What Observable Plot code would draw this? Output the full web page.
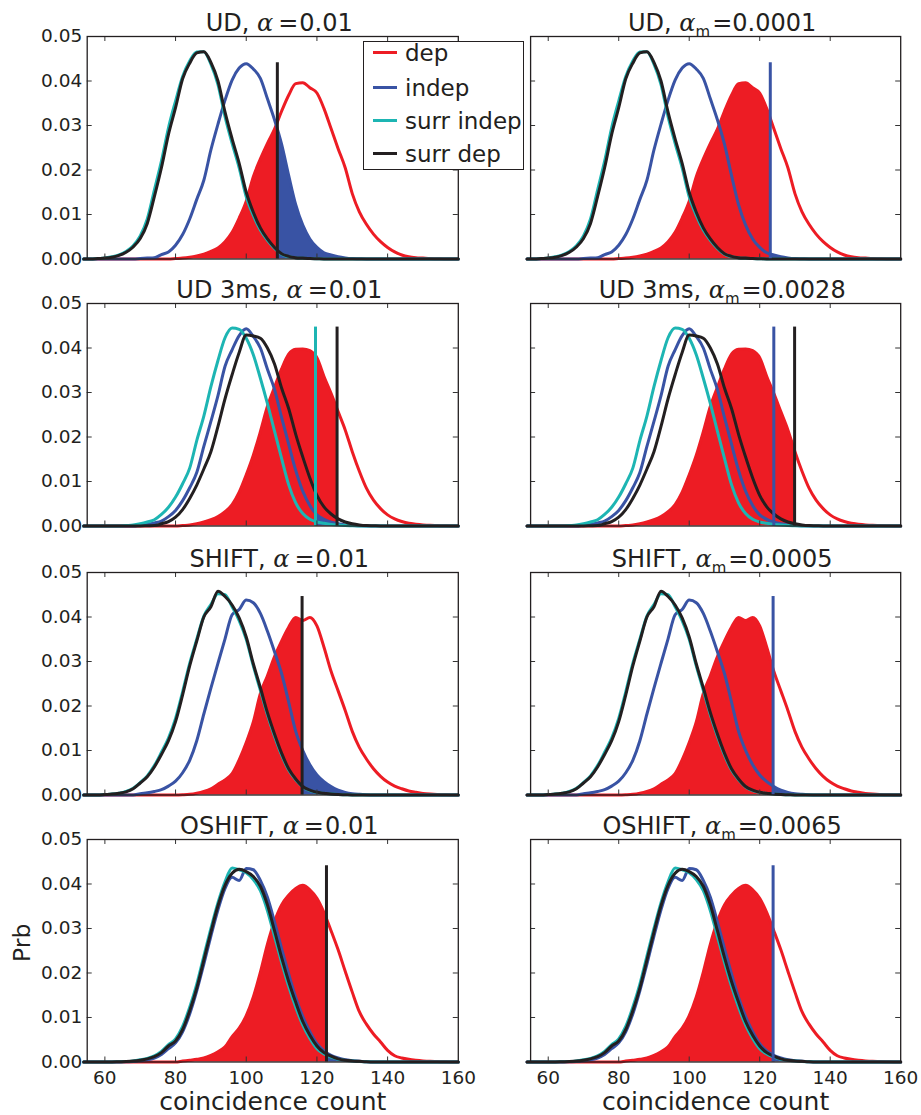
<!DOCTYPE html>
<html>
<head>
<meta charset="utf-8">
<script src="https://cdn.jsdelivr.net/npm/d3@7"></script>
<script src="https://cdn.jsdelivr.net/npm/@observablehq/plot@0.6"></script>
<style>
  html, body { margin: 0; padding: 0; background: #fff; }
  #fig { position: relative; width: 921px; height: 1115px; overflow: hidden;
         font-family: "DejaVu Sans", sans-serif; color: #231f20; background: #fff; }
  .panel { position: absolute; }
  .title { position: absolute; font-size: 24px; line-height: 24px; white-space: nowrap;
           transform: translateX(-50%); z-index: 3; }
  .al { font-family: "DejaVu Serif", serif; font-style: italic; }
  .eq { margin-left: 5px; margin-right: 1px; }
  .sub { font-size: 15px; position: relative; top: 6px; margin-right: 2px; }
  #legend { position: absolute; left: 363px; top: 41px; width: 159px; height: 127px;
            border: 1.2px solid #231f20; background: #fff; z-index: 5; }
  .sw { position: absolute; left: 9px; width: 24px; height: 3px; }
  .lt { position: absolute; left: 41px; font-size: 23px; line-height: 23px; white-space: nowrap; }
</style>
</head>
<body>
<div id="fig"></div>
<script>
// ---------- data (probabilities) ----------
const counts = [54,56,58,60,62,64,66,68,70,72,74,76,78,80,82,84,86,88,90,92,94,96,98,100,102,104,106,108,110,112,114,116,118,120,122,124,126,128,130,132,134,136,138,140,142,144,146,148,150,152,154,156,158,160];

const methods = ["UD", "UD 3ms", "SHIFT", "OSHIFT"];
const alphaLeft = "0.01";
const alphaMulti = ["0.0001", "0.0028", "0.0005", "0.0065"];
const legendLabels = ["dep", "indep", "surr indep", "surr dep"];
const xTickLabels = [60, 80, 100, 120, 140, 160];
const yTickLabels = [0, 0.01, 0.02, 0.03, 0.04, 0.05];
const xLabel = "coincidence count";
const yLabel = "Prb";

// UD
const udDep = [0,0,0,0,0,0,0,0,0,0,0,0,0,.0001,.0002,.0004,.0007,.0011,.0017,.0025,.0039,.006,.0092,.013,.0185,.0225,.026,.0292,.0332,.0368,.0394,.0396,.0385,.0373,.0338,.0293,.0248,.0205,.0147,.0106,.0078,.0056,.0039,.0026,.0016,.0009,.0005,.0003,.0002,.0001,.00005,0,0,0];
const udIndep = [0,0,0,0,0,0,0,0,.0001,.0002,.0003,.001,.0016,.0031,.0055,.009,.0134,.0177,.0245,.0303,.0357,.0402,.0429,.0439,.0427,.0406,.036,.0313,.0258,.0188,.0122,.0076,.0045,.0026,.0014,.0009,.0005,.00025,.0001,.00005,0,0,0,0,0,0,0,0,0,0,0,0,0,0];
const udSurrIndep = [0,0,.0001,.0002,.0005,.0009,.0017,.003,.0052,.009,.0155,.022,.0295,.0355,.041,.0445,.0465,.0466,.0438,.0392,.032,.026,.0205,.014,.0098,.0065,.0042,.0024,.0011,.0005,.00025,.00015,.0001,.00005,0,0,0,0,0,0,0,0,0,0,0,0,0,0,0,0,0,0,0,0];
const udSurrDep = [0,0,.0001,.0002,.0004,.0008,.0015,.0027,.0046,.008,.014,.0205,.028,.034,.0405,.044,.0463,.0466,.0442,.04,.033,.027,.0215,.015,.0105,.007,.0045,.0026,.0012,.0006,.0003,.0002,.0001,.00005,0,0,0,0,0,0,0,0,0,0,0,0,0,0,0,0,0,0,0,0];

// UD 3ms
const ud3Dep = [0,0,0,0,0,0,0,0,0,0,0,0,0,0,.0001,.0002,.0005,.0009,.0014,.0021,.0032,.0048,.0076,.0115,.0159,.0212,.0269,.0312,.0353,.0386,.0397,.0398,.0394,.0378,.0336,.0298,.0257,.0216,.0167,.0123,.0085,.0058,.0039,.0025,.0016,.001,.0006,.0004,.00025,.00015,.0001,.00005,0,0];
const ud3Indep = [0,0,0,0,0,0,0,0,.0002,.0004,.0007,.0011,.0021,.0035,.0057,.0086,.012,.0179,.0235,.0293,.0359,.0396,.0428,.0443,.0426,.04,.0352,.0307,.0244,.0184,.0125,.0078,.0046,.0025,.0015,.00085,.0005,.00025,.0001,.00005,0,0,0,0,0,0,0,0,0,0,0,0,0,0];
const ud3SurrIndep = [0,0,0,0,0,0,.0001,.0002,.0005,.0009,.0014,.0026,.0042,.0065,.0095,.013,.0192,.0247,.0313,.0372,.0423,.0445,.0442,.0422,.0385,.0332,.0275,.0213,.0152,.0093,.0052,.0028,.0015,.0009,.0006,.00035,.0002,.0001,.00005,0,0,0,0,0,0,0,0,0,0,0,0,0,0,0];
const ud3SurrDep = [0,0,0,0,0,0,0,0,0,.00005,.0001,.0005,.001,.002,.0037,.0062,.0092,.0128,.0167,.0224,.0286,.034,.039,.0429,.0427,.0422,.04,.0364,.031,.0264,.0206,.0155,.0108,.0069,.0043,.0027,.0016,.0009,.0005,.00025,.0001,.00005,0,0,0,0,0,0,0,0,0,0,0,0];

// SHIFT
const shiftDep = [0,0,0,0,0,0,0,0,0,0,0,0,0,0,.00005,.00015,.0004,.0008,.0014,.0024,.0034,.0048,.0079,.0118,.0164,.0228,.0268,.0311,.0346,.0377,.0399,.0392,.0399,.038,.0332,.0278,.0234,.019,.0143,.0107,.0081,.0059,.0042,.0029,.002,.0014,.0009,.0006,.00035,.0002,.0001,.00005,0,0];
const shiftIndep = [0,0,0,0,0,0,0,0,.0003,.0005,.0008,.0012,.002,.0031,.005,.0078,.0122,.0182,.024,.0296,.0351,.0405,.0417,.0438,.0432,.0408,.0368,.0322,.0273,.0209,.0143,.01,.0068,.0045,.003,.0019,.0011,.0006,.0003,.00015,.00005,0,0,0,0,0,0,0,0,0,0,0,0,0];
const shiftSurrIndep = [0,0,0,.0001,.0002,.0004,.0008,.0015,.0028,.0043,.0066,.0096,.0128,.0172,.0232,.0296,.035,.0402,.0428,.0452,.045,.0423,.0392,.035,.029,.0235,.018,.0132,.009,.0056,.0034,.0018,.001,.00055,.00035,.0002,.0001,.00005,0,0,0,0,0,0,0,0,0,0,0,0,0,0,0,0];
const shiftSurrDep = [0,0,0,.0001,.0002,.0004,.0007,.0014,.0027,.0041,.0063,.0091,.0122,.0165,.0225,.029,.0346,.04,.0423,.0458,.0446,.0427,.0398,.0355,.0295,.0241,.0185,.0137,.0094,.0059,.0036,.0019,.0011,.0006,.0004,.0002,.0001,.00005,0,0,0,0,0,0,0,0,0,0,0,0,0,0,0,0];

// OSHIFT
const oshiftDep = [0,0,0,0,0,0,0,0,0,0,0,0,0,0,.0002,.0004,.0006,.0009,.0015,.0023,.0034,.0057,.0076,.0104,.0146,.0202,.0265,.0316,.0353,.0375,.039,.0397,.0387,.0368,.0336,.0295,.0252,.0204,.0157,.0113,.0085,.0063,.0045,.0026,.0014,.0009,.0006,.0004,.00025,.00015,.0001,.00005,0,0];
const oshiftIndep = [0,0,0,0,0,0,.00005,.0001,.0003,.0005,.0009,.0017,.003,.0043,.0068,.0108,.016,.022,.0283,.0342,.039,.0415,.0408,.0435,.0432,.0408,.037,.0315,.0255,.0198,.0145,.0102,.0068,.0041,.0025,.0015,.0009,.0005,.0003,.00015,.00005,0,0,0,0,0,0,0,0,0,0,0,0,0];
const oshiftSurrIndep = [0,0,0,0,0,.00005,.0001,.00025,.0005,.0008,.0014,.0024,.0039,.0052,.008,.0123,.0175,.0238,.03,.0358,.0405,.0436,.0432,.0425,.041,.0385,.034,.0282,.0224,.017,.0123,.0083,.0053,.003,.0018,.0011,.0006,.00035,.0002,.0001,.00005,0,0,0,0,0,0,0,0,0,0,0,0,0];
const oshiftSurrDep = [0,0,0,0,0,.00005,.0001,.0002,.0004,.0007,.0012,.0021,.0036,.0047,.0073,.0115,.0166,.0229,.0292,.0351,.0397,.0424,.0433,.0428,.0417,.0395,.0353,.0295,.0235,.0181,.0134,.0091,.006,.0036,.0021,.0013,.0007,.0004,.00025,.00015,.00005,0,0,0,0,0,0,0,0,0,0,0,0,0];

// thresholds (coincidence count) and line heights
const redEndLeft = [108.8, 125.7, 115.8, 122.7];
const blueStartLeft = [108.8, 119.6, 115.8, 122.7];
const redEndRight = [123.0, 129.9, 123.8, 123.8];
const blueStartRight = [123.0, 124.0, 123.8, 123.8];
const lineTops = [0.0441, 0.0447, 0.0446, 0.0441];
const leftLineX = [[108.8], [119.6, 125.7], [115.8], [122.7]];
const leftLineKind = [["surrDep"], ["surrIndep", "surrDep"], ["surrDep"], ["surrDep"]];
const rightLineX = [[123.0], [124.0, 129.9], [123.8], [123.8]];
const rightLineKind = [["indep"], ["indep", "surrDep"], ["indep"], ["indep"]];

// ---------- styling ----------
const colors = {dep: "#ed1c24", indep: "#3953a4", surrIndep: "#1db5b3", surrDep: "#231f20"};
const ink = "#231f20";
const LW = 3;
const CURVE = "monotone-x";

const rowSeries = [
  {dep: udDep, indep: udIndep, surrIndep: udSurrIndep, surrDep: udSurrDep},
  {dep: ud3Dep, indep: ud3Indep, surrIndep: ud3SurrIndep, surrDep: ud3SurrDep},
  {dep: shiftDep, indep: shiftIndep, surrIndep: shiftSurrIndep, surrDep: shiftSurrDep},
  {dep: oshiftDep, indep: oshiftIndep, surrIndep: oshiftSurrIndep, surrDep: oshiftSurrDep}
];

const FH = 222.5, MT = 36;
const frameTops = [36, 303.3, 572.3, 839.3];
const colGeom = [
  {left: 0, width: 460, mL: 86.7, mR: 2.2},
  {left: 460, width: 461, mL: 70.1, mR: 20.8}
];
const X0 = 55, X1 = 160;
const fig = document.getElementById("fig");
const NS = "http://www.w3.org/2000/svg";

function addClip(svg, g, id, xa, xb) {
  let defs = svg.querySelector("defs.clipdefs");
  if (!defs) {
    defs = document.createElementNS(NS, "defs");
    defs.setAttribute("class", "clipdefs");
    svg.insertBefore(defs, svg.firstChild);
  }
  const cp = document.createElementNS(NS, "clipPath");
  cp.setAttribute("id", id);
  const rect = document.createElementNS(NS, "rect");
  rect.setAttribute("x", xa);
  rect.setAttribute("y", -100);
  rect.setAttribute("width", Math.max(0, xb - xa));
  rect.setAttribute("height", 3000);
  cp.appendChild(rect);
  defs.appendChild(cp);
  g.setAttribute("clip-path", `url(#${id})`);
}

function makePanel(r, c) {
  const geo = colGeom[c];
  const top = frameTops[r] - MT;
  const last = r === 3;
  const height = last ? 1115 - top : MT + FH + 12;
  const mB = height - MT - FH;
  const FW = geo.width - geo.mL - geo.mR;
  const s = rowSeries[r];
  const lx = c === 0 ? leftLineX[r] : rightLineX[r];
  const lk = c === 0 ? leftLineKind[r] : rightLineKind[r];
  const redEnd = c === 0 ? redEndLeft[r] : redEndRight[r];
  const blueStart = c === 0 ? blueStartLeft[r] : blueStartRight[r];

  const marks = [
    Plot.areaY(counts, {x: d => d, y: s.dep, fill: colors.dep, curve: CURVE}),
    Plot.areaY(counts, {x: d => d, y: s.indep, fill: colors.indep, curve: CURVE}),
    Plot.lineY(counts, {x: d => d, y: s.dep, stroke: colors.dep, strokeWidth: LW, curve: CURVE}),
    Plot.lineY(counts, {x: d => d, y: s.indep, stroke: colors.indep, strokeWidth: LW, curve: CURVE}),
    Plot.lineY(counts, {x: d => d, y: s.surrIndep, stroke: colors.surrIndep, strokeWidth: LW, curve: CURVE}),
    Plot.lineY(counts, {x: d => d, y: s.surrDep, stroke: colors.surrDep, strokeWidth: LW, curve: CURVE})
  ];
  lx.forEach((xv, i) => {
    marks.push(Plot.ruleX([{x: xv, top: lineTops[r]}], {x: "x", y1: 0, y2: "top", stroke: colors[lk[i]], strokeWidth: 3}));
  });
  const xt = [60, 80, 100, 120, 140];
  const yt = [0.01, 0.02, 0.03, 0.04];
  marks.push(
    Plot.ruleX(xt, {stroke: "#333", strokeWidth: 1, insetTop: FH - 5}),
    Plot.ruleX(xt, {stroke: "#333", strokeWidth: 1, insetBottom: FH - 5}),
    Plot.ruleY(yt, {stroke: "#333", strokeWidth: 1, insetRight: FW - 5}),
    Plot.ruleY(yt, {stroke: "#333", strokeWidth: 1, insetLeft: FW - 5}),
    Plot.frame({stroke: ink, strokeWidth: 1.3})
  );
  if (c === 0) {
    marks.push(Plot.axisY({ticks: yTickLabels, anchor: "left", tickSize: 0, tickPadding: 5,
      tickFormat: d3.format(".2f"), fontSize: 18.5, label: null, fill: ink}));
  }
  if (last) {
    marks.push(Plot.axisX({ticks: xTickLabels, anchor: "bottom", tickSize: 0, tickPadding: 9,
      tickFormat: d3.format("d"), fontSize: 18.5, label: null, fill: ink}));
    marks.push(Plot.text([xLabel], {text: d => d, frameAnchor: "bottom", lineAnchor: "middle",
      textAnchor: "middle", dy: 40, fontSize: 25, fill: ink}));
    if (c === 0) {
      marks.push(Plot.text([yLabel], {text: d => d, frameAnchor: "left", lineAnchor: "middle",
        textAnchor: "middle", dx: -65, dy: -8, rotate: -90, fontSize: 23.5, fill: ink}));
    }
  }

  const hasX = last, hasY = c === 0;
  const svg = Plot.plot({
    width: geo.width,
    height,
    marginTop: MT,
    marginBottom: mB,
    marginLeft: geo.mL,
    marginRight: geo.mR,
    x: hasX ? {domain: [X0, X1]} : {domain: [X0, X1], axis: null},
    y: hasY ? {domain: [0, 0.05]} : {domain: [0, 0.05], axis: null},
    style: {background: "transparent", overflow: "visible", fontFamily: "DejaVu Sans", color: ink, maxWidth: "none"},
    marks
  });

  const px = v => geo.mL + (v - X0) / (X1 - X0) * FW;
  const redG = svg.querySelector(`g[fill="${colors.dep}"]`);
  const blueG = svg.querySelector(`g[fill="${colors.indep}"]`);
  if (redG) addClip(svg, redG, `clipR${r}${c}`, -100, px(redEnd));
  if (blueG) addClip(svg, blueG, `clipB${r}${c}`, px(blueStart), geo.width + 100);

  const div = document.createElement("div");
  div.className = "panel";
  div.style.left = geo.left + "px";
  div.style.top = top + "px";
  div.style.width = geo.width + "px";
  div.style.height = height + "px";
  div.appendChild(svg);
  fig.appendChild(div);

  // title
  const t = document.createElement("div");
  t.className = "title";
  const cx = geo.left + geo.mL + FW / 2 + 7;
  t.style.left = cx + "px";
  t.style.top = (frameTops[r] - 25.5) + "px";
  if (c === 0) {
    t.innerHTML = `${methods[r]}, <span class="al">α</span><span class="eq">=</span>${alphaLeft}`;
  } else {
    t.innerHTML = `${methods[r]}, <span class="al">α</span><span class="sub">m</span>=${alphaMulti[r]}`;
  }
  fig.appendChild(t);
}

for (let r = 0; r < 4; r++) for (let c = 0; c < 2; c++) makePanel(r, c);

// legend
const legend = document.createElement("div");
legend.id = "legend";
const legendKeys = ["dep", "indep", "surrIndep", "surrDep"];
const legendY = [10.5, 45, 78.3, 111.8];
legendLabels.forEach((lab, i) => {
  const sw = document.createElement("div");
  sw.className = "sw";
  sw.style.top = (legendY[i] - 1.5) + "px";
  sw.style.background = colors[legendKeys[i]];
  legend.appendChild(sw);
  const tx = document.createElement("div");
  tx.className = "lt";
  tx.style.top = (legendY[i] - 10.5) + "px";
  tx.textContent = lab;
  legend.appendChild(tx);
});
fig.appendChild(legend);
</script>
</body>
</html>
